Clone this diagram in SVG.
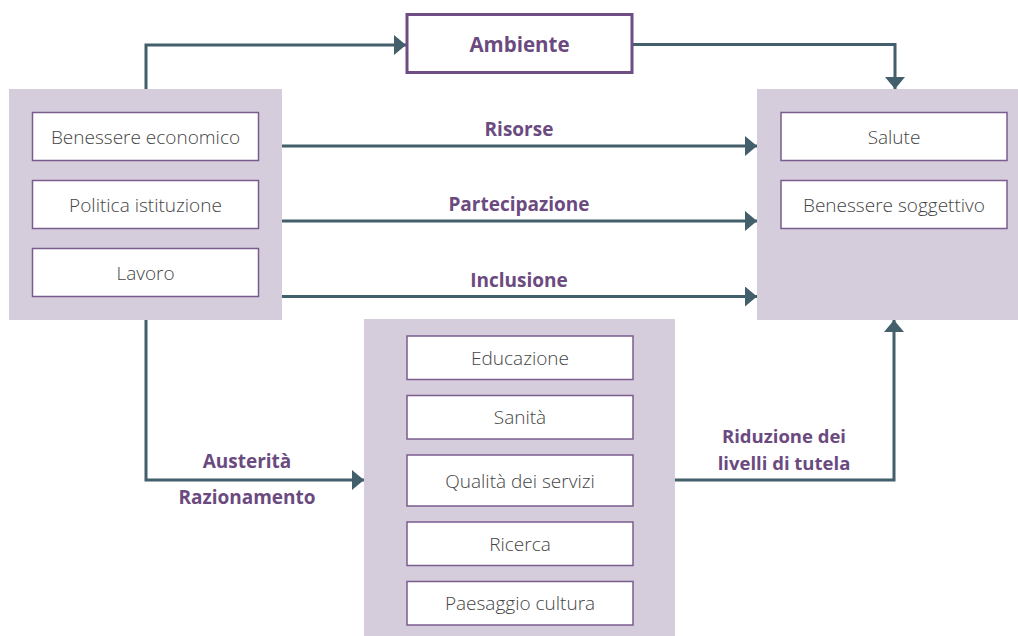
<svg xmlns="http://www.w3.org/2000/svg" width="1018" height="636" viewBox="0 0 1018 636">
<defs>
<style>
.panel{fill:#d5cddc}
.box{fill:#fff;stroke:#7b5c8e;stroke-width:1.5}
.amb{fill:#fff;stroke:#6e4d84;stroke-width:3}
.t{font-family:"Open Sans","Liberation Sans",sans-serif;font-size:19px;font-weight:300;fill:#444;text-anchor:middle}
.l{font-family:"Open Sans","Liberation Sans",sans-serif;font-size:19px;font-weight:700;fill:#6b4a80;text-anchor:middle}
.c{fill:none;stroke:#425f6b;stroke-width:3}
.ah{fill:#425f6b}
</style>
<marker id="arr" viewBox="0 0 12 20" refX="12" refY="10" markerWidth="12" markerHeight="20" markerUnits="userSpaceOnUse" orient="auto">
<path d="M0,0 L12,10 L0,20 Z" class="ah"/>
</marker>
</defs>
<g id="connectors">
<path class="c" d="M146,89 V45 H406" marker-end="url(#arr)"/>
<path class="c" d="M632,44.5 H895 V89" marker-end="url(#arr)"/>
<path class="c" d="M282,146 H757" marker-end="url(#arr)"/>
<path class="c" d="M282,221 H757" marker-end="url(#arr)"/>
<path class="c" d="M282,296.5 H757" marker-end="url(#arr)"/>
<path class="c" d="M146,320 V480 H364" marker-end="url(#arr)"/>
<path class="c" d="M675,480 H894 V320" marker-end="url(#arr)"/>
<text class="l" x="519" y="136">Risorse</text>
<text class="l" x="519" y="211">Partecipazione</text>
<text class="l" x="519" y="287">Inclusione</text>
<text class="l" x="247" y="468">Austerità</text>
<text class="l" x="247" y="504">Razionamento</text>
<text class="l" x="784" y="443" style="font-size:18.5px">Riduzione dei</text>
<text class="l" x="784" y="469.5" style="font-size:18.5px">livelli di tutela</text>
</g>
<g id="ambiente">
<rect class="amb" x="407" y="14.5" width="225" height="58"/>
<text class="l" x="519.5" y="52" style="font-size:20.5px">Ambiente</text>
</g>
<g id="fattori">
<rect class="panel" x="9" y="89" width="273" height="231"/>
<g id="benessere-economico"><rect class="box" x="32.5" y="112.5" width="226" height="48"/><text class="t" x="145.5" y="144">Benessere economico</text></g>
<g id="politica-istituzione"><rect class="box" x="32.5" y="180.5" width="226" height="48"/><text class="t" x="145.5" y="212">Politica istituzione</text></g>
<g id="lavoro"><rect class="box" x="32.5" y="248.5" width="226" height="48"/><text class="t" x="145.5" y="280">Lavoro</text></g>
</g>
<g id="esiti">
<rect class="panel" x="757" y="89" width="261" height="231"/>
<g id="salute"><rect class="box" x="781" y="112.5" width="226" height="48"/><text class="t" x="894" y="144">Salute</text></g>
<g id="benessere-soggettivo"><rect class="box" x="781" y="180.5" width="226" height="48"/><text class="t" x="894" y="212">Benessere soggettivo</text></g>
</g>
<g id="servizi">
<rect class="panel" x="364" y="319" width="311" height="317"/>
<g id="educazione"><rect class="box" x="407" y="336" width="226" height="43.5"/><text class="t" x="520" y="365">Educazione</text></g>
<g id="sanita"><rect class="box" x="407" y="395.5" width="226" height="43.5"/><text class="t" x="520" y="424">Sanità</text></g>
<g id="qualita"><rect class="box" x="407" y="455" width="226" height="51"/><text class="t" x="520" y="488">Qualità dei servizi</text></g>
<g id="ricerca"><rect class="box" x="407" y="522" width="226" height="43.5"/><text class="t" x="520" y="551">Ricerca</text></g>
<g id="paesaggio"><rect class="box" x="407" y="581.5" width="226" height="43.5"/><text class="t" x="520" y="610">Paesaggio cultura</text></g>
</g>
</svg>
